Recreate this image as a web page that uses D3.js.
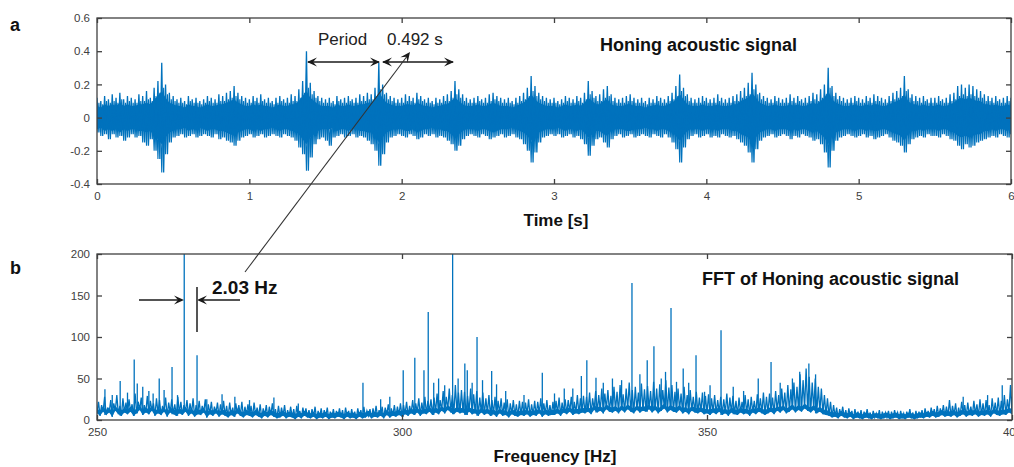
<!DOCTYPE html>
<html>
<head>
<meta charset="utf-8">
<script src="https://cdn.jsdelivr.net/npm/d3@7"></script>
<style>
html,body{margin:0;padding:0;background:#fff;}
svg{display:block;font-family:"Liberation Sans",Arial,sans-serif;}
</style>
</head>
<body>
<svg id="chart" width="1014" height="467"></svg>
<script>
// ---------- DATA ----------
// Top panel: acoustic signal envelope, sampled every 0.025 s (0..6 s)
const timeStep = 0.025;
const sigHigh = [
0.12,0.10,0.13,0.11,0.14,0.12,0.15,0.11,0.13,0.12,
0.11,0.14,0.13,0.16,0.12,0.18,0.22,0.33,0.20,0.15,
0.13,0.11,0.12,0.10,0.13,0.11,0.12,0.10,0.11,0.13,
0.12,0.11,0.14,0.13,0.15,0.16,0.19,0.15,0.13,0.12,
0.11,0.13,0.12,0.14,0.11,0.12,0.10,0.12,0.13,0.11,
0.12,0.14,0.13,0.17,0.22,0.40,0.21,0.16,0.13,0.12,
0.11,0.12,0.10,0.13,0.11,0.12,0.13,0.11,0.12,0.14,
0.13,0.15,0.14,0.18,0.33,0.20,0.15,0.13,0.12,0.11,
0.12,0.14,0.13,0.12,0.15,0.13,0.11,0.12,0.10,0.12,
0.11,0.13,0.14,0.16,0.22,0.17,0.14,0.12,0.11,0.12,
0.13,0.11,0.12,0.14,0.15,0.13,0.12,0.11,0.12,0.10,
0.12,0.13,0.15,0.18,0.25,0.19,0.15,0.13,0.12,0.11,
0.12,0.10,0.11,0.13,0.12,0.11,0.13,0.12,0.15,0.22,
0.16,0.13,0.14,0.17,0.19,0.14,0.12,0.11,0.12,0.13,
0.14,0.12,0.11,0.12,0.10,0.12,0.11,0.13,0.12,0.11,
0.13,0.15,0.19,0.26,0.18,0.14,0.12,0.11,0.12,0.13,
0.12,0.11,0.12,0.14,0.12,0.11,0.12,0.13,0.14,0.16,
0.18,0.21,0.27,0.20,0.15,0.13,0.12,0.11,0.13,0.12,
0.11,0.12,0.14,0.12,0.13,0.11,0.12,0.13,0.15,0.14,
0.17,0.20,0.30,0.19,0.15,0.13,0.12,0.11,0.12,0.13,
0.12,0.11,0.13,0.12,0.14,0.13,0.12,0.11,0.13,0.15,
0.16,0.18,0.25,0.17,0.14,0.13,0.12,0.13,0.11,0.12,
0.12,0.13,0.11,0.12,0.14,0.15,0.19,0.20,0.18,0.20,
0.19,0.17,0.16,0.14,0.13,0.12,0.13,0.11,0.12,0.13,
0.12];
const sigLow = [
-0.09,-0.11,-0.10,-0.13,-0.10,-0.12,-0.11,-0.14,-0.12,-0.10,
-0.12,-0.11,-0.15,-0.17,-0.13,-0.20,-0.25,-0.33,-0.22,-0.15,
-0.12,-0.11,-0.10,-0.12,-0.11,-0.10,-0.12,-0.11,-0.10,-0.11,
-0.12,-0.10,-0.13,-0.12,-0.14,-0.15,-0.17,-0.14,-0.12,-0.11,
-0.10,-0.12,-0.11,-0.10,-0.12,-0.11,-0.10,-0.11,-0.12,-0.10,
-0.11,-0.12,-0.14,-0.18,-0.22,-0.32,-0.24,-0.16,-0.13,-0.12,
-0.14,-0.17,-0.12,-0.11,-0.10,-0.12,-0.11,-0.10,-0.12,-0.11,
-0.12,-0.14,-0.16,-0.20,-0.29,-0.22,-0.15,-0.12,-0.11,-0.10,
-0.11,-0.12,-0.10,-0.11,-0.13,-0.12,-0.10,-0.11,-0.10,-0.12,
-0.11,-0.12,-0.14,-0.16,-0.20,-0.17,-0.13,-0.11,-0.10,-0.11,
-0.12,-0.10,-0.11,-0.13,-0.12,-0.11,-0.10,-0.12,-0.11,-0.10,
-0.12,-0.13,-0.16,-0.20,-0.27,-0.21,-0.15,-0.12,-0.11,-0.10,
-0.11,-0.10,-0.12,-0.11,-0.10,-0.12,-0.11,-0.13,-0.16,-0.23,
-0.17,-0.13,-0.12,-0.15,-0.18,-0.13,-0.11,-0.10,-0.12,-0.11,
-0.10,-0.12,-0.11,-0.10,-0.11,-0.12,-0.10,-0.11,-0.12,-0.10,
-0.12,-0.15,-0.19,-0.27,-0.18,-0.13,-0.11,-0.10,-0.12,-0.11,
-0.10,-0.12,-0.11,-0.12,-0.10,-0.11,-0.12,-0.11,-0.13,-0.15,
-0.17,-0.21,-0.27,-0.19,-0.14,-0.12,-0.11,-0.10,-0.12,-0.11,
-0.10,-0.11,-0.13,-0.11,-0.12,-0.10,-0.11,-0.12,-0.14,-0.13,
-0.16,-0.21,-0.30,-0.20,-0.14,-0.12,-0.11,-0.10,-0.11,-0.12,
-0.11,-0.10,-0.12,-0.11,-0.13,-0.12,-0.11,-0.10,-0.12,-0.14,
-0.15,-0.17,-0.21,-0.16,-0.13,-0.12,-0.11,-0.12,-0.10,-0.11,
-0.11,-0.12,-0.10,-0.11,-0.13,-0.14,-0.17,-0.19,-0.16,-0.18,
-0.17,-0.15,-0.14,-0.13,-0.12,-0.11,-0.12,-0.10,-0.11,-0.12,
-0.10];
// Dense core of the signal (amplitude band that is almost solid), same sampling
const sigCoreHigh = [
0.07,0.06,0.08,0.07,0.08,0.07,0.09,0.07,0.08,0.07,
0.07,0.08,0.08,0.09,0.08,0.11,0.13,0.16,0.12,0.09,
0.08,0.07,0.07,0.06,0.08,0.07,0.07,0.06,0.07,0.08,
0.07,0.07,0.08,0.08,0.09,0.10,0.11,0.09,0.08,0.07,
0.07,0.08,0.07,0.08,0.07,0.07,0.06,0.07,0.08,0.07,
0.07,0.08,0.08,0.10,0.13,0.16,0.12,0.10,0.08,0.07,
0.07,0.07,0.06,0.08,0.07,0.07,0.08,0.07,0.07,0.08,
0.08,0.09,0.09,0.11,0.15,0.12,0.09,0.08,0.07,0.07,
0.07,0.08,0.08,0.07,0.09,0.08,0.07,0.07,0.06,0.07,
0.07,0.08,0.08,0.10,0.12,0.10,0.08,0.07,0.07,0.07,
0.08,0.07,0.07,0.08,0.09,0.08,0.07,0.07,0.07,0.06,
0.07,0.08,0.09,0.11,0.14,0.11,0.09,0.08,0.07,0.07,
0.07,0.06,0.07,0.08,0.07,0.07,0.08,0.07,0.09,0.12,
0.10,0.08,0.08,0.10,0.11,0.08,0.07,0.07,0.07,0.08,
0.08,0.07,0.07,0.07,0.06,0.07,0.07,0.08,0.07,0.07,
0.08,0.09,0.11,0.14,0.11,0.08,0.07,0.07,0.07,0.08,
0.07,0.07,0.07,0.08,0.07,0.07,0.07,0.08,0.08,0.10,
0.11,0.12,0.15,0.12,0.09,0.08,0.07,0.07,0.08,0.07,
0.07,0.07,0.08,0.07,0.08,0.07,0.07,0.08,0.09,0.08,
0.10,0.12,0.16,0.11,0.09,0.08,0.07,0.07,0.07,0.08,
0.07,0.07,0.08,0.07,0.08,0.08,0.07,0.07,0.08,0.09,
0.10,0.11,0.14,0.10,0.08,0.08,0.07,0.08,0.07,0.07,
0.07,0.08,0.07,0.07,0.08,0.09,0.11,0.12,0.11,0.12,
0.11,0.10,0.10,0.08,0.08,0.07,0.08,0.07,0.07,0.08,
0.07];

// Bottom panel: FFT magnitude envelope, every 0.5 Hz (250..400 Hz)
const freqStart = 250, freqStep = 0.5;
const fftHigh = [
22,18,28,15,24,20,30,17,26,21,
25,19,32,22,27,18,29,23,20,26,
24,17,27,21,25,19,28,22,18,24,
20,26,18,23,17,25,19,22,16,21,
19,23,17,21,15,20,18,22,16,19,
17,21,15,19,14,18,16,20,13,17,
15,18,12,16,13,17,11,15,14,12,
13,16,11,14,12,15,10,13,11,14,
12,15,11,13,10,14,12,16,11,13,
14,17,12,16,15,19,14,18,16,20,
18,22,17,24,20,26,21,28,23,25,
27,32,24,35,28,38,30,42,33,36,
34,29,38,31,35,27,33,26,30,24,
28,23,26,21,25,20,24,19,23,22,
21,25,19,23,22,26,20,24,18,22,
23,27,21,25,24,28,22,30,26,29,
28,33,26,35,30,38,32,36,29,40,
34,42,31,38,45,36,40,33,44,37,
41,35,46,38,43,36,48,39,42,34,
38,32,40,30,36,28,34,27,33,29,
31,26,30,24,28,25,32,27,29,23,
27,22,30,25,28,23,31,26,33,28,
32,27,35,30,38,33,42,37,45,40,
55,48,62,52,45,50,40,38,30,26,
22,18,15,13,16,12,14,11,13,10,
12,10,13,9,11,8,12,10,9,11,
10,12,9,11,8,10,13,9,11,10,
12,14,11,15,13,17,14,18,16,24,
17,20,15,22,18,21,16,23,19,25,
20,24,18,26,21,27,23,30,25,42,
28];
const fftLow = [
8,5,10,6,9,4,11,7,5,9,
7,10,5,8,12,6,9,7,11,5,
8,6,10,4,9,7,5,8,6,10,
5,8,4,7,6,9,3,7,5,8,
4,7,5,3,6,4,8,5,3,6,
5,3,6,4,2,5,3,6,4,2,
3,5,2,4,3,1,4,2,5,3,
2,4,1,3,2,4,1,3,2,4,
3,1,4,2,3,1,4,2,3,5,
2,4,3,5,2,6,3,5,4,6,
4,7,5,8,6,9,5,8,7,10,
6,9,7,11,8,12,9,7,10,8,
9,6,10,7,8,5,9,6,8,5,
7,4,8,5,6,3,7,5,4,6,
5,7,4,6,5,8,4,7,5,6,
6,8,5,9,7,10,6,8,7,9,
8,10,7,12,9,11,8,13,10,9,
11,8,12,9,13,10,8,12,9,11,
10,13,9,12,8,11,14,9,12,10,
9,12,8,10,7,11,9,8,10,7,
8,6,9,7,10,6,8,5,9,7,
6,9,7,8,5,9,7,10,8,6,
8,10,7,11,9,12,8,10,13,9,
12,10,14,11,9,12,8,10,7,6,
5,3,4,2,5,3,2,4,1,3,
2,1,3,2,1,3,2,1,2,3,
1,2,3,1,2,1,3,2,1,2,
3,2,4,3,5,3,4,6,4,5,
4,6,3,5,7,4,6,5,7,4,
6,5,7,4,8,6,5,7,6,9,
7];
// Discrete spectral peaks: frequency (Hz) and magnitude
const peakFreqs = [251.3,252.5,253.8,255.0,256.1,256.6,257.5,258.5,259.2,260.2,261.0,262.3,263.2,264.3,266.4,268.0,270.5,272.6,275.0,279.0,283.0,293.6,296.5,298.0,300.2,302.1,303.6,304.3,305.2,306.0,307.0,308.3,309.2,310.3,310.7,311.5,312.3,313.2,314.7,315.5,317.0,320.0,323.0,325.0,326.6,328.0,329.4,330.3,331.8,333.0,334.5,336.0,337.7,339.0,340.2,341.3,342.5,343.2,344.1,345.0,346.1,347.0,348.2,349.6,350.5,352.3,354.3,356.0,358.4,360.5,362.0,364.0,365.2,366.7,367.8,392.0,396.0,398.4];
const peakMags  = [37,30,47,33,73,44,40,35,32,50,36,64,30,200,78,25,31,28,24,27,20,45,25,28,60,75,60,130,45,50,42,200,50,68,60,45,100,48,59,43,35,30,57,32,38,38,53,72,51,45,50,48,165,55,72,89,50,58,135,46,62,45,78,34,42,108,40,35,50,70,45,50,58,68,55,28,30,42];

// Axis ticks
const timeTicks = [0,1,2,3,4,5,6];
const ampTicks = [-0.4,-0.2,0,0.2,0.4,0.6];
const freqTicks = [250,300,350,400];
const magTicks = [0,50,100,150,200];

// ---------- DRAW ----------
const svg = d3.select("#chart");
const blue = "#0072BD";
const axisCol = "#404040";
const textCol = "#404040";

const topBox = {l:97, r:1011, t:18, b:184};
const botBox = {l:97, r:1012, t:254, b:420};

const xT = d3.scaleLinear().domain([0,6]).range([topBox.l, topBox.r]);
const yT = d3.scaleLinear().domain([-0.4,0.6]).range([topBox.b, topBox.t]);
const xF = d3.scaleLinear().domain([250,400]).range([botBox.l, botBox.r]);
const yF = d3.scaleLinear().domain([0,200]).range([botBox.b, botBox.t]);

const defs = svg.append("defs");
defs.append("clipPath").attr("id","clipTop").append("rect")
  .attr("x",topBox.l).attr("y",topBox.t).attr("width",topBox.r-topBox.l).attr("height",topBox.b-topBox.t);
defs.append("clipPath").attr("id","clipBot").append("rect")
  .attr("x",botBox.l).attr("y",botBox.t).attr("width",botBox.r-botBox.l).attr("height",botBox.b-botBox.t);

// signal: solid core band + zigzag envelope
const gSig = svg.append("g").attr("clip-path","url(#clipTop)");
gSig.append("path")
  .attr("d", d3.area().x((d,i)=>xT(i*timeStep)).y0((d,i)=>yT(-sigCoreHigh[i])).y1(d=>yT(d))(sigCoreHigh))
  .attr("fill",blue);
const sigPts = [];
sigHigh.forEach((h,i)=>{
  sigPts.push([i*timeStep, h]);
  sigPts.push([i*timeStep + timeStep/2, sigLow[i]]);
});
const lineT = d3.line().x(d=>xT(Math.min(d[0],6))).y(d=>yT(d[1]));
gSig.append("path").attr("d", lineT(sigPts)).attr("fill","none").attr("stroke",blue).attr("stroke-width",1.3);
const sigPts2 = [];
sigLow.forEach((l,i)=>{
  sigPts2.push([i*timeStep, l]);
  sigPts2.push([i*timeStep + timeStep/2, sigCoreHigh[i] + 0.02]);
});
gSig.append("path").attr("d", lineT(sigPts2)).attr("fill","none").attr("stroke",blue).attr("stroke-width",1.1);

// FFT
const gF = svg.append("g").attr("clip-path","url(#clipBot)");
const fftPts = [];
fftHigh.forEach((h,i)=>{
  const f = freqStart + i*freqStep;
  fftPts.push([f, fftLow[i]]);
  fftPts.push([Math.min(f + freqStep/2, 400), h]);
});
const lineF = d3.line().x(d=>xF(d[0])).y(d=>yF(d[1]));
gF.append("path").attr("d", lineF(fftPts)).attr("fill","none").attr("stroke",blue).attr("stroke-width",1.3);
gF.append("path")
  .attr("d", d3.area().x((d,i)=>xF(freqStart+i*freqStep)).y0(d=>yF(d)).y1((d,i)=>yF(Math.min(fftHigh[i], d+6)))(fftLow))
  .attr("fill",blue);
gF.selectAll("line").data(peakFreqs).join("line")
  .attr("x1",d=>xF(d)).attr("x2",d=>xF(d))
  .attr("y1",(d,i)=>yF(fftLow[Math.round((d-freqStart)/freqStep)]))
  .attr("y2",(d,i)=>yF(peakMags[i]))
  .attr("stroke",blue).attr("stroke-width",1.3);

// axes (MATLAB-style boxed, inward ticks)
function boxAxes(box, xs, ys, xt, yt, xfmt, yfmt){
  const g = svg.append("g");
  g.append("rect").attr("x",box.l).attr("y",box.t).attr("width",box.r-box.l).attr("height",box.b-box.t)
    .attr("fill","none").attr("stroke",axisCol).attr("stroke-width",1.3);
  const gx = g.append("g").attr("transform",`translate(0,${box.b})`)
    .call(d3.axisBottom(xs).tickValues(xt).tickSize(-5).tickPadding(8).tickFormat(xfmt));
  const gy = g.append("g").attr("transform",`translate(${box.l},0)`)
    .call(d3.axisLeft(ys).tickValues(yt).tickSize(-5).tickPadding(7).tickFormat(yfmt));
  const gxt = g.append("g").attr("transform",`translate(0,${box.t})`).call(d3.axisTop(xs).tickValues(xt).tickSize(-5).tickFormat(""));
  const gyr = g.append("g").attr("transform",`translate(${box.r},0)`).call(d3.axisRight(ys).tickValues(yt).tickSize(-5).tickFormat(""));
  [gx,gy,gxt,gyr].forEach(a=>{
    a.select(".domain").remove();
    a.selectAll(".tick line").attr("stroke",axisCol).attr("stroke-width",1.3);
    a.selectAll(".tick text").attr("fill",textCol).style("font-size","11.5px").style("font-family","'Liberation Sans',Arial,sans-serif");
  });
}
const ampFmt = d => d===0 ? "0" : d3.format(".1f")(d).replace("\u2212","-");
boxAxes(topBox, xT, yT, timeTicks, ampTicks, d3.format("d"), ampFmt);
boxAxes(botBox, xF, yF, freqTicks, magTicks, d3.format("d"), d3.format("d"));

// labels
const bold = (x,y,t,size,anchor)=>svg.append("text").attr("x",x).attr("y",y).attr("text-anchor",anchor||"start")
  .attr("font-weight","bold").attr("font-size",size).attr("fill","#111").text(t);
bold(10,31,"a","18px");
bold(10,274,"b","18px");
bold(556,226,"Time [s]","17px","middle");
bold(555,462,"Frequency [Hz]","17px","middle");
bold(600,51,"Honing acoustic signal","18px");
bold(702,285,"FFT of Honing acoustic signal","18px");
bold(212,294,"2.03 Hz","19px");
svg.append("text").attr("x",318).attr("y",45).attr("font-size","17px").attr("fill","#222").text("Period");
svg.append("text").attr("x",387).attr("y",45).attr("font-size","17px").attr("fill","#222").text("0.492 s");

// arrows
const ann = "#1a1a1a";
function arrowHead(x,y,angle){
  const L=10, W=4.5;
  const a = angle;
  const p1 = [x - L*Math.cos(a) + W*Math.sin(a), y - L*Math.sin(a) - W*Math.cos(a)];
  const p2 = [x - L*Math.cos(a) - W*Math.sin(a), y - L*Math.sin(a) + W*Math.cos(a)];
  const pm = [x - 0.6*L*Math.cos(a), y - 0.6*L*Math.sin(a)];
  svg.append("path").attr("d",`M${x},${y}L${p1[0]},${p1[1]}L${pm[0]},${pm[1]}L${p2[0]},${p2[1]}Z`).attr("fill",ann);
}
function seg(x1,y1,x2,y2,w,c){
  svg.append("line").attr("x1",x1).attr("y1",y1).attr("x2",x2).attr("y2",y2).attr("stroke",c||ann).attr("stroke-width",w||1.4);
}
seg(308,62,379,62,1.6); arrowHead(307,62,Math.PI); arrowHead(380,62,0);
seg(383,62,453,62,1.6); arrowHead(382,62,Math.PI); arrowHead(454,62,0);
seg(245,272,408,55,1.1,"#333"); arrowHead(410,52,Math.atan2(52-272,410-245));
seg(139,300,182,300,1.5); arrowHead(184,300,0);
seg(240,300,199,300,1.5); arrowHead(197,300,Math.PI);
seg(197,287,197,332,2,"#555");
</script>
</body>
</html>
